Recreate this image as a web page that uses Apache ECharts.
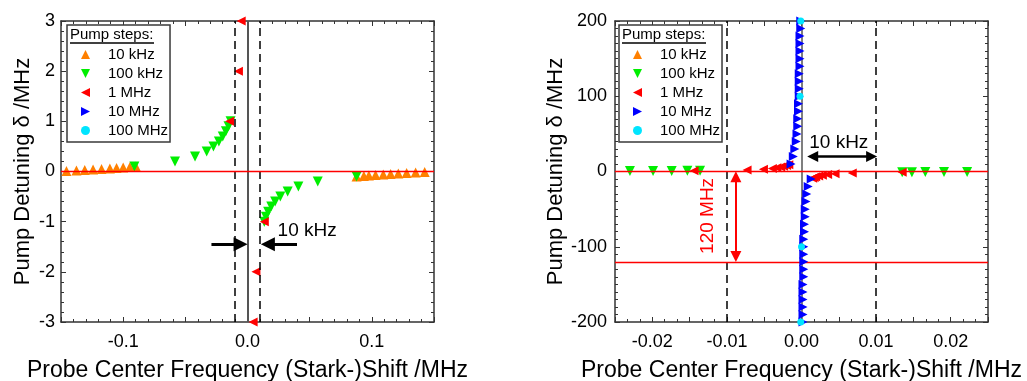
<!DOCTYPE html>
<html><head><meta charset="utf-8">
<script src="https://cdn.jsdelivr.net/npm/echarts@6/dist/echarts.min.js"></script>
<style>html,body{margin:0;padding:0;background:#fff}#c{width:1027px;height:381px}</style>
</head><body><div id="c"></div>
<script>
// ---------- data (pump detuning δ in MHz, probe shift in MHz) ----------
const seriesNames = ['10 kHz', '100 kHz', '1 MHz', '10 MHz', '100 MHz'];

const detuning10k = [0.01, 0.02, 0.03, 0.04, 0.05, 0.06, 0.07, 0.08, 0.09, 0.10,
                     -0.01, -0.02, -0.03, -0.04, -0.05, -0.06, -0.07, -0.08, -0.09, -0.10];
const shift10k = [-0.1456, -0.1376, -0.1309, -0.1242, -0.1174, -0.1107, -0.1053, -0.1000, -0.0946, -0.0898,
                  0.1425, 0.1352, 0.1280, 0.1213, 0.1151, 0.1092, 0.1030, 0.0976, 0.0936, 0.0877];

const detuning100k = [0.1, 0.2, 0.3, 0.4, 0.5, 0.6, 0.7, 0.8, 0.9, 1.0,
                      -0.1, -0.2, -0.3, -0.4, -0.5, -0.6, -0.7, -0.8, -0.9, -1.0];
const shift100k = [-0.0910, -0.0583, -0.0422, -0.0328, -0.0274, -0.0230, -0.0199, -0.0174, -0.0153, -0.0136,
                   0.0877, 0.0565, 0.0409, 0.0323, 0.0264, 0.0222, 0.0191, 0.0166, 0.0148, 0.0135];

const detuning1M = [1, 2, 3, 4, 5, 6, 7, 8, 9, -1, -2, -3, -4, -5, -6, -7, -8, -9];
const shift1M = [-0.0144, -0.0073, -0.0051, -0.0039, -0.0033, -0.0028, -0.0024, -0.0020, -0.0017,
                 0.0135, 0.0068, 0.0045, 0.0035, 0.0028, 0.0023, 0.0019, 0.0017, 0.0015];

const detuning10M = [10, 20, 30, 40, 50, 60, 70, 80, 90, 100, 110, 120, 130, 140, 150, 160, 170, 180, 190, 200,
                     -10, -20, -30, -40, -50, -60, -70, -80, -90, -100, -110, -120, -130, -140, -150, -160, -170, -180, -190, -200];
const shift10M = [-0.0014, -0.0011, -0.0009, -0.0007, -0.0006, -0.0005, -0.0005, -0.0004, -0.0004, -0.0003,
                  -0.0003, -0.0003, -0.0003, -0.0002, -0.0002, -0.0002, -0.0002, -0.0002, -0.0001, -0.0001,
                  0.0013, 0.0009, 0.0007, 0.0006, 0.0005, 0.0005, 0.0004, 0.0004, 0.0003, 0.0003,
                  0.0003, 0.0003, 0.0003, 0.0003, 0.0002, 0.0002, 0.0002, 0.0002, 0.0002, 0.0002];

const detuning100M = [200, 100, -100, -200];
const shift100M = [-0.0001, -0.0002, 0.0000, -0.0001];

// ---------- build ----------
const zip = (xs, ys) => xs.map((x, i) => [x, ys[i]]);
const TRI_UP = 'path://M5,0L10,10L0,10Z';
const TRI_DOWN = 'path://M0,0L10,0L5,10Z';
const TRI_LEFT = 'path://M10,0L10,10L0,5Z';
const TRI_RIGHT = 'path://M0,0L10,5L0,10Z';
const sets = [
  { x: shift10k,  y: detuning10k,  symbol: TRI_UP,    size: 10, color: '#ff8000' },
  { x: shift100k, y: detuning100k, symbol: TRI_DOWN,  size: 10, color: '#00ee00' },
  { x: shift1M,   y: detuning1M,   symbol: TRI_LEFT,  size: 9,  color: '#ff0000' },
  { x: shift10M,  y: detuning10M,  symbol: TRI_RIGHT, size: 9,  color: '#0000ff' },
  { x: shift100M, y: detuning100M, symbol: 'circle',  size: 7,  color: '#00e5ff' }
];

const FONT = '"Liberation Sans", Arial, sans-serif';
const AX = '#333';

function xAx(grid, pos, min, max, interval, minorSplit, fmt) {
  return {
    type: 'value', gridIndex: grid, position: pos, min, max, interval,
    axisLine: { onZero: false, lineStyle: { color: AX, width: 1.5 } },
    axisTick: { inside: true, length: 5, lineStyle: { color: AX, width: 1 } },
    minorTick: { show: true, splitNumber: minorSplit, length: 3, lineStyle: { color: AX, width: 1 } },
    splitLine: { show: false },
    axisLabel: pos === 'bottom' ? { show: true, formatter: fmt, fontSize: 18, color: '#000', margin: 11, fontFamily: FONT } : { show: false },
    name: pos === 'bottom' ? 'Probe Center Frequency (Stark-)Shift /MHz' : '',
    nameLocation: 'middle', nameGap: 37,
    nameTextStyle: { fontSize: 23, color: '#000', fontFamily: FONT }
  };
}
function yAx(grid, pos, min, max, interval, minorSplit, gap, margin) {
  return {
    type: 'value', gridIndex: grid, position: pos, min, max, interval,
    axisLine: { onZero: false, lineStyle: { color: AX, width: 1.5 } },
    axisTick: { inside: true, length: 5, lineStyle: { color: AX, width: 1 } },
    minorTick: { show: true, splitNumber: minorSplit, length: 3, lineStyle: { color: AX, width: 1 } },
    splitLine: { show: false },
    axisLabel: pos === 'left' ? { show: true, fontSize: 18, color: '#000', margin: margin, fontFamily: FONT } : { show: false },
    name: pos === 'left' ? 'Pump Detuning δ /MHz' : '',
    nameLocation: 'middle', nameGap: gap, nameRotate: 90,
    nameTextStyle: { fontSize: 22, color: '#000', fontFamily: FONT }
  };
}
const fmtL = v => { const k = Math.round(v * 100); return (k % 10 === 0 && Math.abs(k) <= 10) ? (k / 100).toFixed(1) : ''; };
const fmtR = v => { const k = Math.round(v * 1000); return (k % 10 === 0 && Math.abs(k) <= 20) ? (k / 1000).toFixed(2) : ''; };

const series = [];
[0, 1].forEach(g => {
  const xi = g * 2, yi = g * 2;
  const lineData = [
    { xAxis: -0.01, lineStyle: { color: '#000', width: 1.5, type: [8, 5] } },
    { xAxis: 0.01, lineStyle: { color: '#000', width: 1.5, type: [8, 5] } },
    { xAxis: 0, lineStyle: { color: '#555', width: g === 0 ? 2 : 1.5, type: 'solid' } },
    { yAxis: 0, lineStyle: { color: '#ff0000', width: 1.3, type: 'solid' } }
  ];
  if (g === 1) lineData.push({ yAxis: -120, lineStyle: { color: '#ff0000', width: 1.3, type: 'solid' } });
  series.push({
    type: 'scatter', xAxisIndex: xi, yAxisIndex: yi, data: [], z: 1, silent: true,
    markLine: { silent: true, symbol: 'none', label: { show: false }, animation: false, data: lineData }
  });
  sets.forEach((s, i) => {
    series.push({
      name: seriesNames[i], type: 'scatter', xAxisIndex: xi, yAxisIndex: yi,
      data: zip(s.x, s.y), symbol: s.symbol, symbolSize: s.size,
      itemStyle: { color: s.color, opacity: 1 }, z: 2 + i, clip: true
    });
  });
});

// annotations (arrows + text) in data coordinates
const arrowsL = [
  [{ coord: [-0.029, -1.45], symbol: 'none' }, { coord: [-0.0056, -1.45], symbol: 'triangle', symbolSize: 14 }],
  [{ coord: [0.0398, -1.45], symbol: 'none' }, { coord: [0.0164, -1.45], symbol: 'triangle', symbolSize: 14 }]
];
series.push({
  type: 'scatter', xAxisIndex: 0, yAxisIndex: 0, data: [], z: 10, silent: true,
  markLine: { silent: true, label: { show: false }, animation: false,
    lineStyle: { color: '#000', width: 3, type: 'solid' }, data: arrowsL },
  markPoint: { silent: true, symbol: 'circle', symbolSize: 1, itemStyle: { color: 'rgba(0,0,0,0)' }, animation: false,
    data: [{ coord: [0.048, -1.185], label: { show: true, position: 'inside', formatter: '10 kHz', fontSize: 19, color: '#000', fontFamily: FONT } }] }
});
const arrowsR = [
  [{ coord: [0.0015, 20], symbol: 'triangle', symbolSize: 11, lineStyle: { color: '#000', width: 2.5, type: 'solid' } },
   { coord: [0.0094, 20], symbol: 'triangle', symbolSize: 11, lineStyle: { color: '#000', width: 2.5, type: 'solid' } }],
  [{ coord: [-0.0088, -7], symbol: 'triangle', symbolSize: 11, lineStyle: { color: '#ff0000', width: 2, type: 'solid' } },
   { coord: [-0.0088, -113], symbol: 'triangle', symbolSize: 11, lineStyle: { color: '#ff0000', width: 2, type: 'solid' } }]
];
series.push({
  type: 'scatter', xAxisIndex: 2, yAxisIndex: 2, data: [], z: 10, silent: true,
  markLine: { silent: true, label: { show: false }, animation: false, lineStyle: { type: 'solid' }, data: arrowsR },
  markPoint: { silent: true, symbol: 'circle', symbolSize: 1, itemStyle: { color: 'rgba(0,0,0,0)' }, animation: false,
    data: [
      { coord: [0.005, 38], label: { show: true, position: 'inside', formatter: '10 kHz', fontSize: 19, color: '#000', fontFamily: FONT } },
      { coord: [-0.0126, -59], label: { show: true, position: 'inside', formatter: '120 MHz', rotate: 90, fontSize: 19, color: '#ff0000', fontFamily: FONT } }
    ] }
});

const legendBase = (left) => ({
  orient: 'vertical', left: left, top: 25, data: seriesNames,
  itemWidth: 9, itemHeight: 9, itemGap: 4, padding: [22, 2, 4, 14],
  borderColor: '#3a3a3a', borderWidth: 1.5, backgroundColor: '#fff',
  textStyle: { fontSize: 15, color: '#000', fontFamily: FONT, lineHeight: 15, padding: [0, 0, 0, 13] },
  z: 20
});

const option = {
  animation: false,
  textStyle: { fontFamily: FONT },
  grid: [
    { left: 61, top: 21, width: 373, height: 301, outerBoundsMode: 'none', containLabel: false },
    { left: 615, top: 21, width: 373, height: 301, outerBoundsMode: 'none', containLabel: false }
  ],
  xAxis: [
    xAx(0, 'bottom', -0.15, 0.15, 0.05, 5, fmtL),
    xAx(0, 'top', -0.15, 0.15, 0.05, 5, fmtL),
    xAx(1, 'bottom', -0.025, 0.025, 0.005, 3, fmtR),
    xAx(1, 'top', -0.025, 0.025, 0.005, 3, fmtR)
  ],
  yAxis: [
    yAx(0, 'left', -3, 3, 1, 5, 27, 6),
    yAx(0, 'right', -3, 3, 1, 5, 27, 6),
    yAx(1, 'left', -200, 200, 100, 10, 43, 8),
    yAx(1, 'right', -200, 200, 100, 10, 43, 8)
  ],
  legend: [legendBase(67), legendBase(619)],
  graphic: [
    { type: 'text', z: 30, style: { x: 70, y: 35, text: 'Pump steps:', fill: '#000', font: '15px ' + FONT, verticalAlign: 'middle' } },
    { type: 'line', z: 30, shape: { x1: 70, y1: 43, x2: 154, y2: 43 }, style: { stroke: '#000', lineWidth: 1.5 } },
    { type: 'text', z: 30, style: { x: 622, y: 35, text: 'Pump steps:', fill: '#000', font: '15px ' + FONT, verticalAlign: 'middle' } },
    { type: 'line', z: 30, shape: { x1: 622, y1: 43, x2: 706, y2: 43 }, style: { stroke: '#000', lineWidth: 1.5 } }
  ],
  series
};
const chart = echarts.init(document.getElementById('c'), null, { renderer: 'canvas' });
chart.setOption(option);
</script></body></html>
